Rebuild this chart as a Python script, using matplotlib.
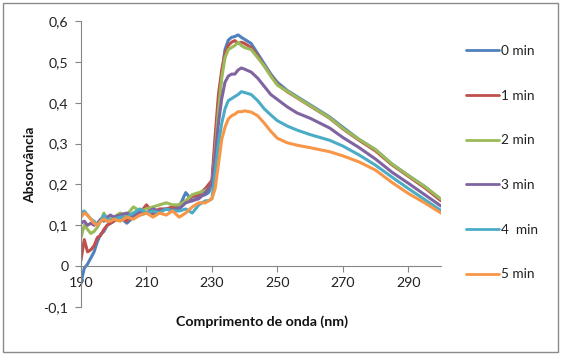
import matplotlib
matplotlib.use("Agg")
import matplotlib.pyplot as plt
from matplotlib.patches import Rectangle
from matplotlib.ticker import FuncFormatter

plt.rcParams['font.family'] = ['Lato', 'DejaVu Sans']

wl = [190, 191, 192, 193, 194, 195, 196, 197, 198, 199, 200,
      202, 204, 206, 208, 210, 212, 214, 216, 218, 220, 222, 224, 226, 228,
      229, 230, 231, 232, 233, 234, 235, 236, 237, 238, 239, 240, 242, 244, 246, 248,
      250, 253, 256, 260, 263, 266, 270, 275, 280, 285, 290, 295, 300]

a0 = [-0.04, -0.005, 0.005, 0.02, 0.035, 0.06, 0.078, 0.085, 0.1, 0.105, 0.11,
      0.12, 0.105, 0.12, 0.125, 0.13, 0.128, 0.135, 0.14, 0.14, 0.145, 0.18, 0.16, 0.17, 0.175,
      0.18, 0.2, 0.3, 0.4, 0.47, 0.53, 0.553, 0.56, 0.562, 0.566, 0.56, 0.555, 0.545, 0.52, 0.495, 0.47,
      0.45, 0.43, 0.415, 0.395, 0.38, 0.365, 0.34, 0.31, 0.285, 0.25, 0.222, 0.195, 0.163]

a1 = [0.015, 0.065, 0.035, 0.04, 0.05, 0.07, 0.075, 0.09, 0.1, 0.105, 0.11,
      0.125, 0.11, 0.13, 0.13, 0.15, 0.13, 0.14, 0.14, 0.145, 0.15, 0.16, 0.17, 0.175, 0.19,
      0.2, 0.21, 0.32, 0.42, 0.48, 0.52, 0.54, 0.548, 0.552, 0.545, 0.548, 0.545, 0.535, 0.515, 0.49, 0.467,
      0.445, 0.427, 0.412, 0.392, 0.377, 0.362, 0.336, 0.308, 0.282, 0.248, 0.22, 0.192, 0.16]

a2 = [0.07, 0.1, 0.09, 0.08, 0.085, 0.095, 0.11, 0.13, 0.115, 0.115, 0.12,
      0.13, 0.125, 0.145, 0.135, 0.14, 0.145, 0.15, 0.155, 0.15, 0.15, 0.16, 0.175, 0.18, 0.185,
      0.19, 0.195, 0.28, 0.38, 0.46, 0.51, 0.53, 0.535, 0.54, 0.548, 0.54, 0.535, 0.53, 0.51, 0.49, 0.465,
      0.443, 0.428, 0.413, 0.393, 0.378, 0.363, 0.337, 0.31, 0.285, 0.25, 0.222, 0.195, 0.164]

a3 = [0.105, 0.11, 0.1, 0.105, 0.1, 0.105, 0.115, 0.11, 0.12, 0.125, 0.12,
      0.125, 0.13, 0.12, 0.135, 0.13, 0.14, 0.135, 0.14, 0.135, 0.14, 0.155, 0.16, 0.165, 0.18,
      0.19, 0.2, 0.27, 0.35, 0.41, 0.45, 0.465, 0.47, 0.47, 0.48, 0.485, 0.482, 0.475, 0.46, 0.44, 0.42,
      0.408, 0.39, 0.375, 0.362, 0.35, 0.338, 0.315, 0.29, 0.262, 0.23, 0.203, 0.175, 0.147]

a4 = [0.13, 0.135, 0.125, 0.115, 0.11, 0.1, 0.11, 0.125, 0.11, 0.115, 0.115,
      0.12, 0.12, 0.13, 0.14, 0.13, 0.135, 0.13, 0.14, 0.135, 0.135, 0.14, 0.13, 0.15, 0.16,
      0.16, 0.165, 0.23, 0.3, 0.35, 0.385, 0.405, 0.41, 0.415, 0.42, 0.427, 0.425, 0.42, 0.405, 0.385, 0.37,
      0.356, 0.343, 0.333, 0.322, 0.315, 0.308, 0.294, 0.272, 0.247, 0.218, 0.19, 0.163, 0.136]

a5 = [0.12, 0.13, 0.125, 0.115, 0.105, 0.1, 0.11, 0.115, 0.11, 0.11, 0.115,
      0.11, 0.12, 0.115, 0.125, 0.13, 0.12, 0.13, 0.125, 0.135, 0.12, 0.13, 0.145, 0.155, 0.155,
      0.16, 0.165, 0.19, 0.25, 0.31, 0.34, 0.36, 0.368, 0.372, 0.378, 0.378, 0.38, 0.377, 0.368, 0.35, 0.33,
      0.313, 0.302, 0.296, 0.29, 0.285, 0.28, 0.27, 0.255, 0.235, 0.205, 0.178, 0.155, 0.13]

labels = ["0 min", "1 min", "2 min", "3 min", "4  min", "5 min"]
colors = ["#4F81BD", "#C0504D", "#9BBB59", "#8064A2", "#4BACC6", "#F79646"]
series = [a0, a1, a2, a3, a4, a5]

xticks = [190, 210, 230, 250, 270, 290]
yticks = [-0.1, 0, 0.1, 0.2, 0.3, 0.4, 0.5, 0.6]

W, H = 565, 356
fig = plt.figure(figsize=(W / 100, H / 100), dpi=100)
ax = fig.add_axes([81 / W, 1 - 307 / H, (441 - 81) / W, (307 - 21) / H])

for y, c, lab in zip(series, colors, labels):
    ax.plot(wl, y, color=c, lw=2.2, label=lab, solid_joinstyle='round',
            solid_capstyle='round')

ax.set_xlim(190, 300)
ax.set_ylim(-0.1, 0.6)
ax.set_xticks(xticks)
ax.set_yticks(yticks)

def fmt(v, pos):
    if abs(v) < 1e-9:
        return "0"
    return ("%.1f" % v).replace(".", ",")

ax.yaxis.set_major_formatter(FuncFormatter(fmt))

gray = "#868686"
for s in ["top", "right"]:
    ax.spines[s].set_visible(False)
ax.spines["bottom"].set_position(("data", 0))
ax.spines["bottom"].set_color(gray)
ax.spines["left"].set_color(gray)
ax.tick_params(axis="both", colors=gray, labelcolor="#222222", labelsize=10.2,
               length=4, width=0.8, direction="out")
ax.tick_params(axis="x", pad=4)
ax.tick_params(axis="y", pad=5)

fig.text(30 / W, 1 - 165 / H, "Absorvância", rotation=90, ha="center", va="center",
         fontsize=10, fontweight="bold", color="#111111")
fig.text(262 / W, 1 - 322 / H, "Comprimento de onda (nm)", ha="center", va="center",
         fontsize=10.2, fontweight="bold", color="#111111")

leg = ax.legend(loc="upper left", bbox_to_anchor=(466 / W, 1 - 45 / H),
                bbox_transform=fig.transFigure, frameon=False, fontsize=9.8,
                handlelength=2.4, handletextpad=0.15, labelspacing=2.4,
                borderpad=0, borderaxespad=0)
for t in leg.get_texts():
    t.set_color("#222222")
for ln in leg.get_lines():
    ln.set_linewidth(2.0)

fig.patches.append(Rectangle((3 / W, 1 - 352 / H), (558 - 3) / W, (352 - 3) / H,
                             transform=fig.transFigure, fill=False,
                             edgecolor="#8a8a8a", lw=1.0))

fig.savefig("out.png", dpi=100)
